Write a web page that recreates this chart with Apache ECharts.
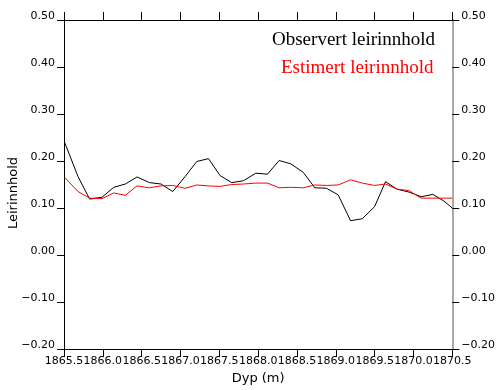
<!DOCTYPE html>
<html>
<head>
<meta charset="utf-8">
<script src="https://cdn.jsdelivr.net/npm/echarts@6/dist/echarts.min.js"></script>
<style>
  html, body { margin: 0; padding: 0; background: #fff; }
  #chart { width: 498px; height: 390px; }
</style>
</head>
<body>
<div id="chart"></div>
<script>
// Depth (m) of each sample
const depth = [
  1865.51, 1865.68, 1865.83, 1865.99, 1866.14, 1866.29, 1866.44, 1866.60, 1866.75, 1866.90,
  1867.06, 1867.21, 1867.36, 1867.51, 1867.66, 1867.81, 1867.97, 1868.12, 1868.27, 1868.42,
  1868.58, 1868.73, 1868.88, 1869.03, 1869.19, 1869.34, 1869.50, 1869.64, 1869.79, 1869.94,
  1870.10, 1870.25, 1870.39, 1870.50
];
// Observed clay content
const observed = [
  0.239, 0.167, 0.119, 0.123, 0.144, 0.151, 0.166, 0.154, 0.151, 0.135,
  0.167, 0.199, 0.205, 0.169, 0.154, 0.158, 0.174, 0.172, 0.201, 0.194,
  0.176, 0.143, 0.142, 0.128, 0.073, 0.077, 0.103, 0.156, 0.140, 0.134,
  0.124, 0.129, 0.115, 0.100
];
// Estimated clay content
const estimated = [
  0.165, 0.135, 0.121, 0.120, 0.132, 0.127, 0.147, 0.143, 0.147, 0.148,
  0.142, 0.149, 0.147, 0.146, 0.150, 0.151, 0.153, 0.153, 0.143, 0.144,
  0.143, 0.149, 0.148, 0.149, 0.160, 0.153, 0.148, 0.151, 0.140, 0.137,
  0.121, 0.121, 0.121, 0.121
];
const seriesNames = ['Observert leirinnhold', 'Estimert leirinnhold'];
const xTitle = 'Dyp (m)';
const yTitle = 'Leirinnhold';

const tickFont = { fontFamily: 'DejaVu Sans', fontSize: 11, color: '#000' };
const fmtY = v => (v < 0 ? '\u2212' : '') + Math.abs(v).toFixed(2);

const chart = echarts.init(document.getElementById('chart'), null, { renderer: 'canvas' });
chart.setOption({
  animation: false,
  backgroundColor: '#fff',
  grid: { left: 64, top: 20, width: 390, height: 329, containLabel: false },
  xAxis: [{
    type: 'value', position: 'bottom', min: 1865.5, max: 1870.5, interval: 0.5,
    name: xTitle, nameLocation: 'middle', nameGap: 21,
    nameTextStyle: { fontFamily: 'DejaVu Sans', fontSize: 13, color: '#000' },
    axisLine: { show: true, onZero: false, lineStyle: { color: '#000', width: 1 } },
    axisTick: { show: true, length: 8, lineStyle: { color: '#000' } },
    axisLabel: Object.assign({ margin: 7, formatter: v => v.toFixed(1) }, tickFont),
    splitLine: { show: false }
  }, {
    type: 'value', position: 'top', min: 1865.5, max: 1870.5, interval: 0.5,
    axisLine: { show: true, onZero: false, lineStyle: { color: '#000', width: 1 } },
    axisTick: { show: true, length: 8, lineStyle: { color: '#000' } },
    axisLabel: { show: false },
    splitLine: { show: false }
  }],
  yAxis: [{
    type: 'value', position: 'left', min: -0.2, max: 0.5, interval: 0.1,
    axisLine: { show: true, onZero: false, lineStyle: { color: '#000', width: 1 } },
    axisTick: { show: true, length: 7, lineStyle: { color: '#000' } },
    axisLabel: Object.assign({ margin: 9, formatter: fmtY, verticalAlign: 'bottom', lineHeight: 8 }, tickFont),
    splitLine: { show: false }
  }, {
    type: 'value', position: 'right', min: -0.2, max: 0.5, interval: 0.1,
    axisLine: { show: true, onZero: false, lineStyle: { color: '#8c8c8c', width: 1.5 } },
    axisTick: { show: true, length: 7, lineStyle: { color: '#000' } },
    axisLabel: Object.assign({ margin: 9, formatter: fmtY, verticalAlign: 'bottom', lineHeight: 8 }, tickFont),
    splitLine: { show: false }
  }],
  graphic: [{
    type: 'text', left: 433 - 161, top: 31,
    style: { text: seriesNames[0], fill: '#000', font: '19px "Liberation Serif"' }
  }, {
    type: 'text', left: 433 - 152, top: 59,
    style: { text: seriesNames[1], fill: '#ff0000', font: '19px "Liberation Serif"' }
  }, {
    type: 'text', x: 14, y: 193, rotation: Math.PI / 2,
    style: { text: yTitle, fill: '#000', font: '13px "DejaVu Sans"', align: 'center', verticalAlign: 'middle' }
  }],
  series: [{
    name: seriesNames[0], type: 'line', xAxisIndex: 0, yAxisIndex: 0,
    data: depth.map((d, i) => [d, observed[i]]),
    showSymbol: false, symbol: 'none', clip: true,
    lineStyle: { color: '#000', width: 1 }
  }, {
    name: seriesNames[1], type: 'line', xAxisIndex: 0, yAxisIndex: 0,
    data: depth.map((d, i) => [d, estimated[i]]),
    showSymbol: false, symbol: 'none', clip: true,
    lineStyle: { color: '#ff0000', width: 1 }
  }]
});
</script>
</body>
</html>
